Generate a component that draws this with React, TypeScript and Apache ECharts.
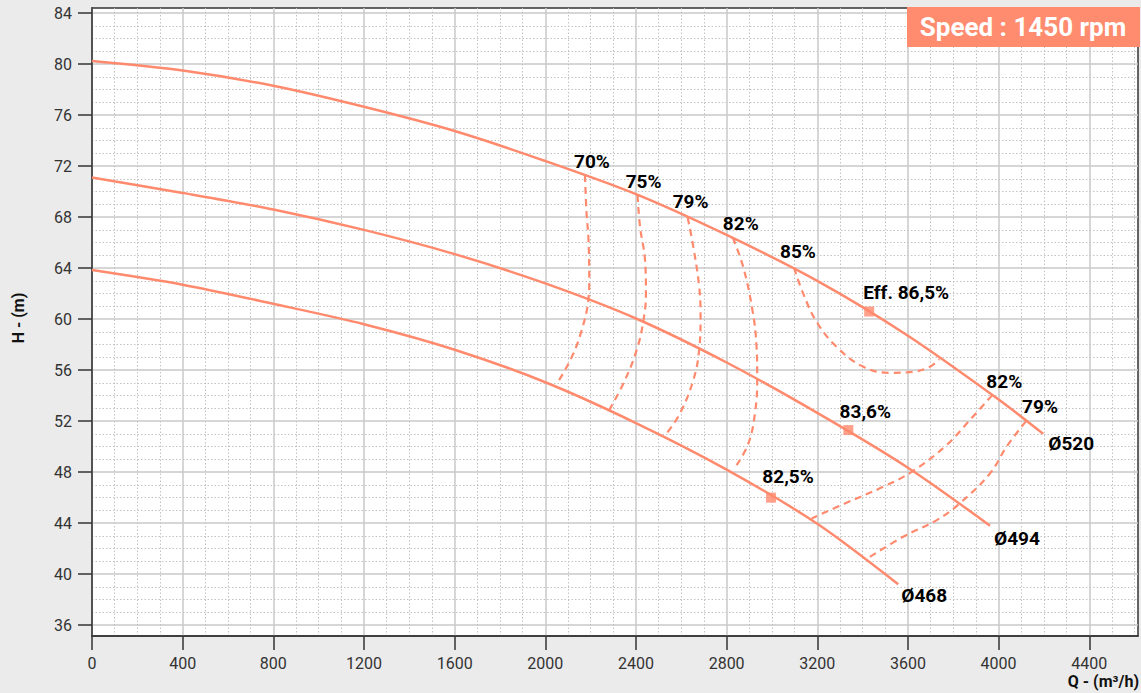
import React, { useEffect, useRef } from "react";
import * as echarts from "echarts";

// ---- Data (Q in m³/h, H in m) ----
const xTicks = [0, 400, 800, 1200, 1600, 2000, 2400, 2800, 3200, 3600, 4000, 4400];
const yTicks = [36, 40, 44, 48, 52, 56, 60, 64, 68, 72, 76, 80, 84];

const q520 = [0, 400, 800, 1200, 1600, 2000, 2400, 2800, 3200, 3600, 4000, 4197];
const h520 = [80.25, 79.5, 78.3, 76.65, 74.75, 72.4, 69.8, 66.6, 63.0, 58.7, 53.7, 51.0];

const q494 = [0, 400, 800, 1200, 1600, 2000, 2400, 2800, 3200, 3600, 3962];
const h494 = [71.1, 69.9, 68.6, 67.0, 65.1, 62.8, 60.05, 56.6, 52.65, 48.35, 43.8];

const q468 = [0, 400, 800, 1200, 1600, 2000, 2400, 2800, 3200, 3557];
const h468 = [63.85, 62.7, 61.2, 59.6, 57.6, 55.05, 51.85, 48.2, 43.95, 39.2];

const iso70Q = [2175, 2182, 2190, 2194, 2190, 2160, 2116, 2050];
const iso70H = [71.3, 68.3, 66.4, 63.1, 61.5, 59.1, 57.0, 54.9];

const iso75Q = [2407, 2418, 2440, 2444, 2432, 2403, 2351, 2282];
const iso75H = [69.73, 67.24, 64.63, 62.0, 59.79, 57.57, 55.2, 52.86];

const iso79Q = [2628, 2653, 2679, 2685, 2679, 2653, 2594, 2535];
const iso79H = [67.98, 65.67, 62.53, 60.18, 57.62, 55.22, 52.6, 51.03];

const iso82Q = [2827, 2873, 2914, 2932, 2935, 2925, 2896, 2844];
const iso82H = [66.4, 64.1, 60.7, 57.83, 55.35, 52.6, 50.25, 48.55];

const iso85Q = [3097, 3138, 3197, 3285, 3403, 3521, 3623, 3697, 3738];
const iso85H = [64.05, 62.0, 59.79, 57.83, 56.26, 55.79, 55.87, 56.26, 56.85];

const iso82RQ = [3972, 3873, 3770, 3623, 3491, 3329, 3175];
const iso82RH = [54.04, 52.08, 50.12, 48.1, 46.85, 45.6, 44.37];

const iso79RQ = [4121, 4035, 3962, 3825, 3727, 3579, 3432];
const iso79RH = [52.0, 49.99, 47.9, 45.5, 44.24, 42.93, 41.36];

const bepQ = [3429, 3337, 2996];
const bepH = [60.6, 51.3, 46.0];

const labelTexts = ["70%", "75%", "79%", "82%", "85%", "Eff. 86,5%", "83,6%", "82,5%", "82%", "79%", "Ø520", "Ø494", "Ø468"];
const labelQ = [2175, 2407, 2628, 2827, 3097, 3429, 3337, 2996, 3972, 4121, 4197, 3962, 3557];
const labelH = [71.3, 69.73, 67.98, 66.4, 64.05, 60.6, 51.3, 46.0, 54.04, 52.0, 51.0, 43.8, 39.2];

// pixel offsets of label centres from their anchors (style only)
const labelOffsets = [
  [7, -14], [6, -14], [3, -16], [8, -14], [4, -16], [37, -19], [17, -19], [17, -21],
  [12, -14], [14, -15], [28, 10], [27, 13], [26, 11],
];

const COLOR = "#ff8a6d";
const FONT = "Roboto";

const pairs = (q: number[], h: number[]) => q.map((x, i) => [x, h[i]]);

export default function App() {
  const ref = useRef<HTMLDivElement>(null);
  useEffect(() => {
    if (!ref.current) return;
    const chart = echarts.init(ref.current, undefined, { renderer: "svg" });

    const solid = (name: string, q: number[], h: number[]) => ({
      name,
      type: "line",
      data: pairs(q, h),
      smooth: 0.3,
      showSymbol: false,
      silent: true,
      z: 3,
      lineStyle: { color: COLOR, width: 2.5 },
    });
    const dashed = (name: string, q: number[], h: number[]) => ({
      name,
      type: "line",
      data: pairs(q, h),
      smooth: 0.4,
      showSymbol: false,
      silent: true,
      z: 2,
      lineStyle: { color: COLOR, width: 2.2, type: [7, 5] },
    });

    const axisCommon = {
      type: "value",
      axisLine: { show: true, onZero: false, lineStyle: { color: "#333", width: 1.5 } },
      splitLine: { show: true, lineStyle: { color: "#c8c8c8", width: 1.5 } },
      minorTick: { show: true, splitNumber: 4, length: 0, lineStyle: { width: 0 } },
      minorSplitLine: { show: true, lineStyle: { type: [1.5, 2], color: "#c2c2c2", width: 1 } },
    };

    chart.setOption({
      animation: false,
      backgroundColor: "#ebebeb",
      textStyle: { fontFamily: FONT },
      grid: {
        left: 92,
        right: 3,
        top: 8,
        bottom: 57,
        show: true,
        backgroundColor: "#ffffff",
        borderColor: "#333",
        borderWidth: 1.5,
        containLabel: false,
      },
      xAxis: {
        ...axisCommon,
        min: 0,
        max: 4615,
        minInterval: 400,
        maxInterval: 400,
        axisTick: { show: true, length: 14, customValues: xTicks, lineStyle: { color: "#333", width: 1.5 } },
        axisLabel: {
          customValues: xTicks,
          fontSize: 16,
          color: "#333",
          margin: 19,
          fontFamily: FONT,
          formatter: (v: number) => String(v),
        },
      },
      yAxis: {
        ...axisCommon,
        min: 35.15,
        max: 84.4,
        minInterval: 4,
        maxInterval: 4,
        axisTick: { show: true, length: 14, customValues: yTicks, lineStyle: { color: "#333", width: 1.5 } },
        axisLabel: {
          customValues: yTicks,
          fontSize: 16,
          color: "#333",
          margin: 20,
          fontFamily: FONT,
          formatter: (v: number) => String(v),
        },
      },
      graphic: [
        {
          type: "rect",
          left: 907,
          top: 7,
          shape: { width: 233, height: 40 },
          style: { fill: "#ff8c6e" },
          z: 100,
        },
        {
          type: "text",
          x: 1023,
          y: 27,
          style: {
            text: "Speed : 1450 rpm",
            fill: "#ffffff",
            font: `bold 26px ${FONT}`,
            textAlign: "center",
            textVerticalAlign: "middle",
          },
          z: 101,
        },
        {
          type: "text",
          x: 1139,
          y: 681,
          style: {
            text: "Q - (m³/h)",
            fill: "#111",
            font: `bold 16px ${FONT}`,
            textAlign: "right",
            textVerticalAlign: "middle",
          },
        },
        {
          type: "text",
          x: 18,
          y: 318,
          rotation: Math.PI / 2,
          style: {
            text: "H - (m)",
            fill: "#111",
            font: `bold 16px ${FONT}`,
            textAlign: "center",
            textVerticalAlign: "middle",
          },
        },
      ],
      series: [
        dashed("70%", iso70Q, iso70H),
        dashed("75%", iso75Q, iso75H),
        dashed("79%", iso79Q, iso79H),
        dashed("82%", iso82Q, iso82H),
        dashed("85%", iso85Q, iso85H),
        dashed("82% R", iso82RQ, iso82RH),
        dashed("79% R", iso79RQ, iso79RH),
        solid("Ø520", q520, h520),
        solid("Ø494", q494, h494),
        solid("Ø468", q468, h468),
        {
          name: "BEP",
          type: "scatter",
          symbol: "rect",
          symbolSize: 10,
          silent: true,
          z: 4,
          itemStyle: { color: COLOR },
          data: pairs(bepQ, bepH),
        },
        {
          name: "labels",
          type: "scatter",
          symbolSize: 1,
          silent: true,
          z: 5,
          itemStyle: { color: "rgba(0,0,0,0)" },
          label: {
            show: true,
            position: "inside",
            formatter: "{b}",
            fontSize: 19,
            fontWeight: "bold",
            color: "#000",
            opacity: 1,
            textBorderWidth: 0,
            textBorderColor: "transparent",
            fontFamily: FONT,
          },
          data: labelTexts.map((t, i) => ({
            name: t,
            value: [labelQ[i], labelH[i]],
            label: { offset: labelOffsets[i] },
          })),
        },
      ],
    });
    return () => chart.dispose();
  }, []);
  return <div ref={ref} style={{ position: "fixed", left: 0, top: 0, width: 1141, height: 693 }} />;
}
